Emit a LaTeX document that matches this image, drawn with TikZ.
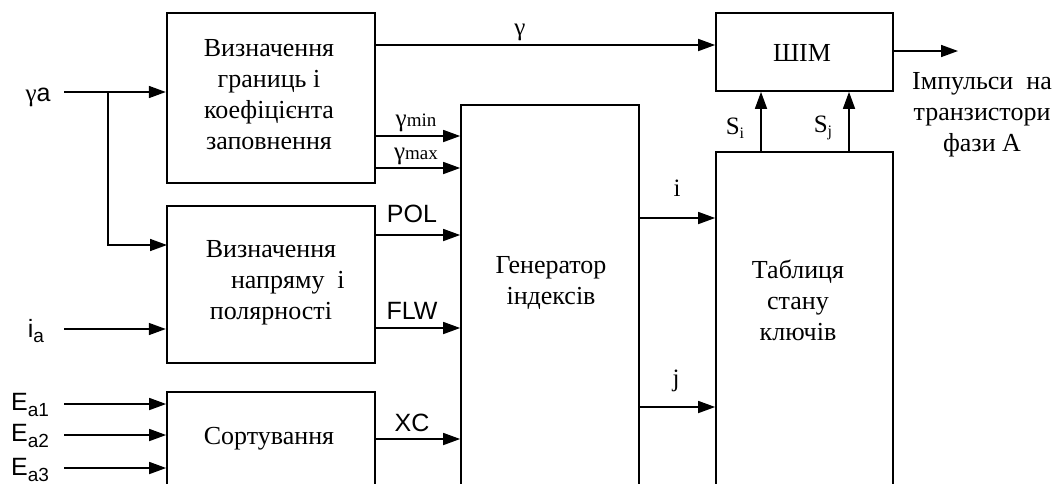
\documentclass[tikz,border=0pt]{standalone}
\usepackage{fontspec}
\setmainfont{Liberation Serif}
\newfontfamily\lsans{Liberation Sans}
\usetikzlibrary{arrows.meta}
\begin{document}
\begin{tikzpicture}[x=1pt,y=-1pt,
  blk/.style={draw, line width=2.4pt, inner sep=0pt},
  blkthin/.style={draw, line width=1.7pt, inner sep=0pt},
  arr/.style={line width=1.6pt, -{Triangle[length=17pt,width=12pt]}},
  lbl/.style={font=\lsans\fontsize{25}{28}\selectfont, inner sep=0pt},
  glbl/.style={font=\fontsize{25}{28}\selectfont, inner sep=0pt},
  txt/.style={font=\fontsize{26}{31}\selectfont, align=center, inner sep=0pt}]
\useasboundingbox (0,0) rectangle (1056,483);
\clip (0,0) rectangle (1056,483);
% blocks
\node[blk, minimum width=208pt, minimum height=170pt] (b1) at (271,98) {};
\node[blk, minimum width=208pt, minimum height=157pt] (b2) at (271,284.5) {};
\node[blkthin, minimum width=208pt, minimum height=138pt] (b3) at (271,461) {};
\node[blkthin, minimum width=178pt, minimum height=425pt] (gen) at (550,317.5) {};
\node[blkthin, minimum width=177pt, minimum height=78pt] (pwm) at (804.5,52) {};
\node[blkthin, minimum width=177pt, minimum height=378pt] (tab) at (804.5,341) {};
% block texts
\node[txt] (t1) at (269,95) {Визначення\\ границь і\\коефіцієнта\\заповнення};
\node[txt] (t2) at (271,283) {Визначення\\\hspace*{1.3em}напряму\ \ і\\полярності};
\node[txt] (t3) at (269,439) {Сортування};
\node[txt] (tg) at (551,283) {Генератор\\індексів};
\node[txt] (tt) at (798,300) {Таблиця\\стану\\ключів};
\node[txt] (tp) at (802,53) {ШІМ};
\node[txt] (tout) at (982,115) {Імпульси\ \ на\\транзистори\\фази А};
% inputs
\node[glbl] (ga) at (38,97) {γ{\lsans a}};
\node[lbl] (ia) at (36,331) {i\raisebox{-0.35ex}{\fontsize{19}{20}\selectfont a}};
\node[lbl] (e1) at (30,405) {E\raisebox{-0.4ex}{\fontsize{19}{20}\selectfont a1}};
\node[lbl] (e2) at (30,436) {E\raisebox{-0.4ex}{\fontsize{19}{20}\selectfont a2}};
\node[lbl] (e3) at (30,470) {E\raisebox{-0.4ex}{\fontsize{19}{20}\selectfont a3}};
\coordinate (ga0) at (64,92);
\coordinate (br) at (108,92);
\coordinate (b2in) at (167,245);
\coordinate (ia0) at (64,329);
\coordinate (e10) at (64,404);
\coordinate (e20) at (64,435);
\coordinate (e30) at (64,468);
\draw[arr] (ga0) -- (b1.west |- ga0);
\draw[arr] (br) |- (b2in);
\draw[arr] (ia0) -- (b2.west |- ia0);
\draw[arr] (e10) -- (b3.west |- e10);
\draw[arr] (e20) -- (b3.west |- e20);
\draw[arr] (e30) -- (b3.west |- e30);
% to generator
\coordinate (ymin) at (461,136);
\coordinate (ymax) at (461,168);
\coordinate (pol) at (461,235);
\coordinate (flw) at (461,328);
\coordinate (xc) at (461,439);
\draw[arr] (b1.east |- ymin) -- (gen.west |- ymin);
\draw[arr] (b1.east |- ymax) -- (gen.west |- ymax);
\draw[arr] (b2.east |- pol) -- (gen.west |- pol);
\draw[arr] (b2.east |- flw) -- (gen.west |- flw);
\draw[arr] (b3.east |- xc) -- (gen.west |- xc);
\node[glbl] (lmin) at (416,123) {γ{\fontsize{19}{20}\selectfont min}};
\node[glbl] (lmax) at (416,156) {γ{\fontsize{19}{20}\selectfont max}};
\node[lbl] (lpol) at (412,214) {POL};
\node[lbl] (lflw) at (412,311) {FLW};
\node[lbl] (lxc) at (412,423) {XC};
% gamma to PWM
\coordinate (gin) at (716,45);
\draw[arr] (b1.east |- gin) -- (pwm.west |- gin);
\node[glbl] (lg) at (520,32) {γ};
% generator to table
\coordinate (iy) at (716,218);
\coordinate (jy) at (716,407);
\draw[arr] (gen.east |- iy) -- (tab.west |- iy);
\draw[arr] (gen.east |- jy) -- (tab.west |- jy);
\node[glbl] (li) at (677,188) {i};
\node[glbl] (lj) at (676,381) {j};
% table to PWM
\coordinate (si) at (761,0);
\coordinate (sj) at (849,0);
\draw[arr] (tab.north -| si) -- (pwm.south -| si);
\draw[arr] (tab.north -| sj) -- (pwm.south -| sj);
\node[glbl] (lsi) at (735,128) {S\raisebox{-0.35ex}{\fontsize{16}{18}\selectfont i}};
\node[glbl] (lsj) at (823,128) {S\raisebox{-0.35ex}{\fontsize{16}{18}\selectfont j}};
% output
\coordinate (out) at (958,51);
\draw[arr] (pwm.east |- out) -- (out);
\end{tikzpicture}
\end{document}
